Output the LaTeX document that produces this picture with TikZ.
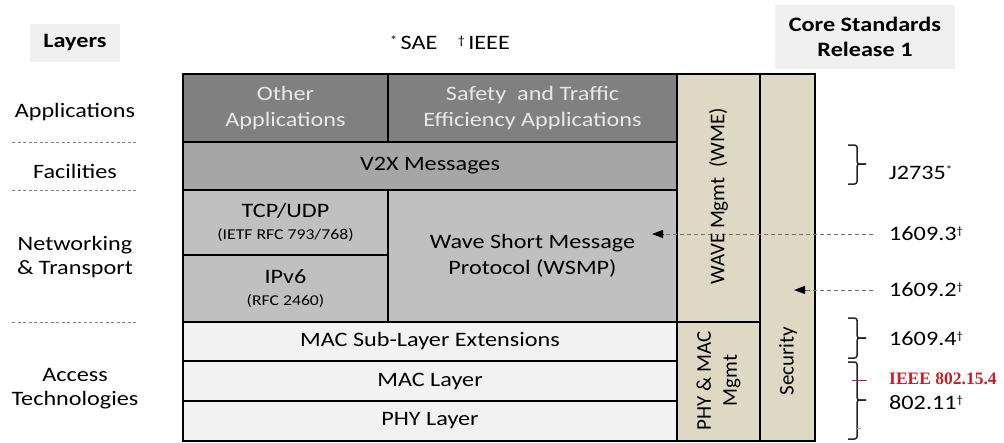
\documentclass[tikz,border=0pt]{standalone}
\usepackage{fontspec}
\setmainfont{Carlito}[FakeStretch=1.18]
\newfontfamily\rotfont{Carlito}
\newfontfamily\redserif{Liberation Serif}
\usetikzlibrary{arrows.meta}
\definecolor{appdark}{RGB}{128,128,128}
\definecolor{apptext}{RGB}{232,232,232}
\definecolor{facgray}{RGB}{166,166,166}
\definecolor{netgray}{RGB}{192,192,192}
\definecolor{accgray}{RGB}{242,242,242}
\definecolor{mgmtbeige}{RGB}{221,217,196}
\definecolor{headbg}{RGB}{240,240,240}
\definecolor{ieeered}{RGB}{200,30,40}
\tikzset{
  cell/.style={draw=black, line width=1.6pt, inner sep=0pt, align=center, font=\fontsize{20.5}{26}\selectfont},
  lbl/.style={align=center, font=\fontsize{20.5}{24}\selectfont, inner sep=0pt},
  rlbl/.style={align=center, rotate=90, font=\rotfont\fontsize{21}{26}\selectfont, inner sep=0pt},
  std/.style={anchor=west, font=\fontsize{20.5}{24}\selectfont, inner sep=0pt},
  sep/.style={draw=gray, dash pattern=on 3pt off 2.5pt, line width=1pt},
  ref/.style={draw=black!55, dash pattern=on 4pt off 3pt, line width=1pt},
  tipline/.style={draw=black, solid, line width=1pt, -{Triangle[length=11pt,width=8pt]}},
  brk/.style={draw=black!85, line width=1.5pt, rounded corners=2.5pt},
}
\begin{document}
\begin{tikzpicture}[x=1pt,y=-1pt]
\useasboundingbox (0,0) rectangle (1004,442);
% header
\node[fill=headbg, minimum width=90pt, minimum height=38pt, font=\fontsize{20.5}{24}\selectfont\bfseries] (layers) at (75,42.5) {Layers};
\node[lbl] (legend) at (450,43) {\raisebox{5pt}{\fontsize{12}{12}\selectfont *}\,SAE\quad\raisebox{5pt}{\fontsize{12}{12}\selectfont\dag}\,IEEE};
\node[fill=headbg, minimum width=180pt, minimum height=64pt, align=center, font=\fontsize{20.5}{25}\selectfont\bfseries] (core) at (865,37) {Core Standards\\Release 1};
% left layer labels
\node[lbl] (lapp) at (75,112) {Applications};
\node[lbl] (lfac) at (75,171) {Facilities};
\node[lbl] (lnet) at (75,257) {Networking\\\& Transport};
\node[lbl] (lacc) at (75,389) {Access\\Technologies};
\coordinate (s1a) at (12,142); \coordinate (s1b) at (138,142);
\coordinate (s2a) at (12,190); \coordinate (s2b) at (138,190);
\coordinate (s3a) at (12,322); \coordinate (s3b) at (138,322);
\draw[sep] (s1a) -- (s1b);
\draw[sep] (s2a) -- (s2b);
\draw[sep] (s3a) -- (s3b);
% stack
\node[cell, fill=appdark, text=apptext, minimum width=205pt, minimum height=68pt] (other) at (285.5,108) {Other\\Applications};
\node[cell, fill=appdark, text=apptext, minimum width=289pt, minimum height=68pt] (safety) at (532.5,108) {Safety~ and Traffic\\Efficiency Applications};
\node[cell, fill=facgray, minimum width=494pt, minimum height=48pt] (v2x) at (430,166) {V2X Messages};
\node[cell, fill=netgray, minimum width=205pt, minimum height=65pt] (tcp) at (285.5,222.5) {TCP/UDP\\[-4pt]{\fontsize{15}{17}\selectfont (IETF RFC 793/768)}};
\node[cell, fill=netgray, minimum width=205pt, minimum height=67pt] (ipv6) at (285.5,288.5) {IPv6\\[-4pt]{\fontsize{15}{17}\selectfont (RFC 2460)}};
\node[cell, fill=netgray, minimum width=289pt, minimum height=132pt] (wsmp) at (532.5,256) {Wave Short Message\\Protocol (WSMP)};
\node[cell, fill=accgray, minimum width=494pt, minimum height=39pt] (macsub) at (430,341.5) {MAC Sub-Layer Extensions};
\node[cell, fill=accgray, minimum width=494pt, minimum height=40pt] (mac) at (430,381) {MAC Layer};
\node[cell, fill=accgray, minimum width=494pt, minimum height=40pt] (phy) at (430,421) {PHY Layer};
\node[cell, fill=mgmtbeige, minimum width=83pt, minimum height=248pt] (wme) at (718.5,198) {};
\node[cell, fill=mgmtbeige, minimum width=83pt, minimum height=119pt] (phymac) at (718.5,381.5) {};
\node[cell, fill=mgmtbeige, minimum width=55pt, minimum height=367pt] (sec) at (787.5,257.5) {};
% standards
\node[std] (j2735) at (889,173) {J2735\raisebox{6pt}{\fontsize{11}{11}\selectfont *}};
\node[std] (s1609c) at (889,234) {1609.3\raisebox{6pt}{\fontsize{11}{11}\selectfont\dag}};
\node[std] (s1609b) at (889,290) {1609.2\raisebox{6pt}{\fontsize{11}{11}\selectfont\dag}};
\node[std] (s1609d) at (889,339) {1609.4\raisebox{6pt}{\fontsize{11}{11}\selectfont\dag}};
\node[std, text=ieeered, font=\redserif\fontsize{17.5}{20}\selectfont\bfseries] (ieee) at (889,379) {IEEE 802.15.4};
\node[std] (s80211) at (889,403) {802.11\raisebox{6pt}{\fontsize{11}{11}\selectfont\dag}};
% arrows
\coordinate (a3) at (652,234);
\coordinate (a3t) at (664,234);
\coordinate (a2) at (794,290);
\coordinate (a2t) at (806,290);
\draw[ref] (s1609c.west) ++(-16pt,0) coordinate (a3s) -- (a3t);
\draw[tipline] (a3t) -- (a3);
\draw[ref] (s1609b.west) ++(-16pt,0) coordinate (a2s) -- (a2t);
\draw[tipline] (a2t) -- (a2);
% rotated labels
\node[rlbl] (wmetext) at (718.5,196) {WAVE\hspace{4pt}Mgmt\hspace{10pt}(WME)};
\node[rlbl] (phymactext) at (718.5,380.5) {PHY \& MAC\\Mgmt};
\node[rlbl] (sectext) at (788,361) {Security};
% brackets
\draw[brk] (848,145) -- (857,145) -- (857,164) -- (866,164);
\draw[brk] (866,164) -- (857,164) -- (857,184) -- (848,184);
\draw[brk] (848,318) -- (857,318) -- (857,338) -- (866,338);
\draw[brk] (866,338) -- (857,338) -- (857,358) -- (848,358);
\draw[brk] (848,362) -- (857,362) -- (857,400) -- (866,400);
\draw[brk] (866,400) -- (857,400) -- (857,439) -- (848,439);
\draw[ieeered, line width=1pt] (852,380) -- (867,380);
\draw[gray!70, line width=0.8pt] (857,428) -- (861,428);
\end{tikzpicture}
\end{document}
